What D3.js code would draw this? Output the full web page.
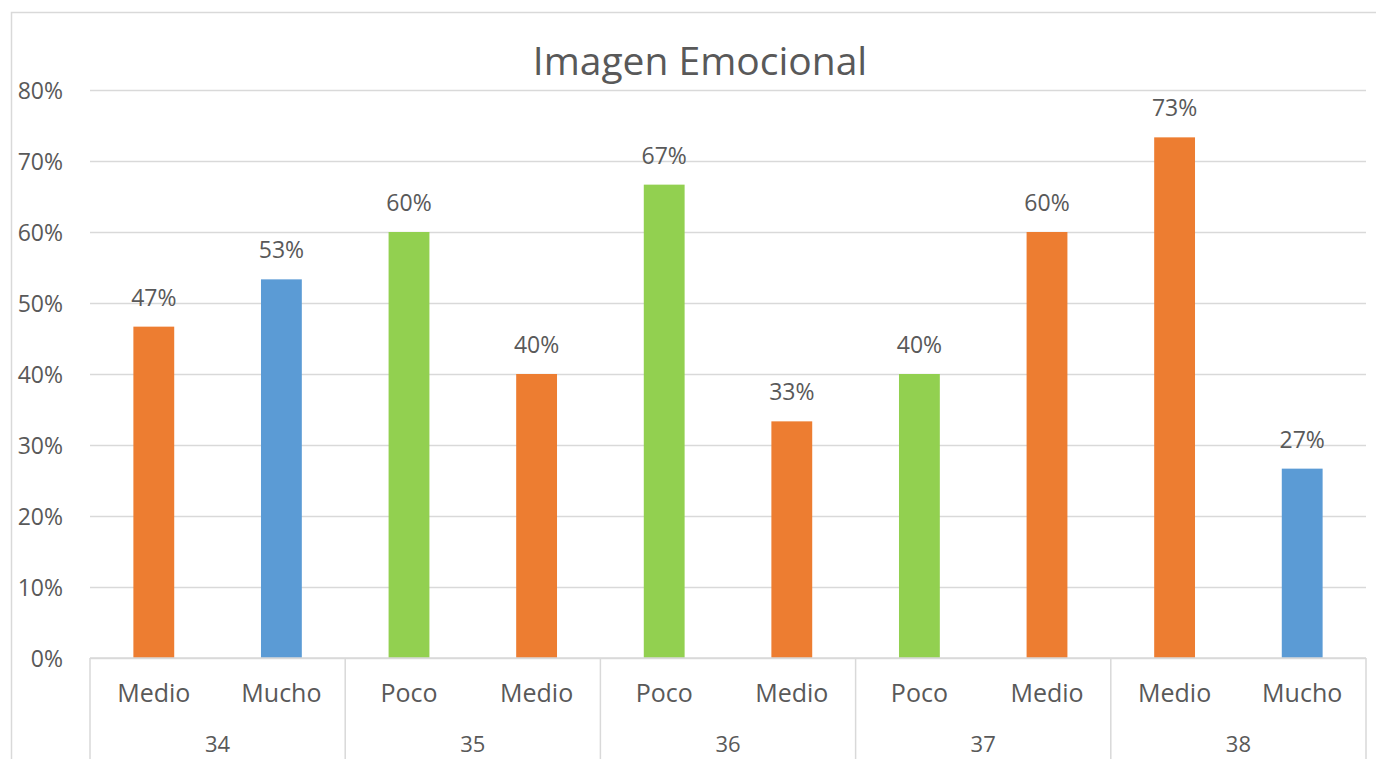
<!DOCTYPE html>
<html>
<head>
<meta charset="utf-8">
<script src="https://cdn.jsdelivr.net/npm/d3@7"></script>
<style>
  html, body { margin: 0; padding: 0; background: #fff; }
  svg { display: block; }
  text { font-family: "Open Sans", "Liberation Sans", sans-serif; fill: #595959; }
</style>
</head>
<body>
<svg id="chart" width="1376" height="759"></svg>
<script>
// Chart data
const groups = ["34", "35", "36", "37", "38"];
const levels = ["Medio", "Mucho", "Poco", "Medio", "Poco", "Medio", "Poco", "Medio", "Medio", "Mucho"];
const groupOf = ["34", "34", "35", "35", "36", "36", "37", "37", "38", "38"];
const values = [0.4667, 0.5333, 0.60, 0.40, 0.6667, 0.3333, 0.40, 0.60, 0.7333, 0.2667];
const valueLabels = ["47%", "53%", "60%", "40%", "67%", "33%", "40%", "60%", "73%", "27%"];
const yTicks = [0, 0.1, 0.2, 0.3, 0.4, 0.5, 0.6, 0.7, 0.8];
const levelColors = { "Poco": "#92D050", "Medio": "#ED7D31", "Mucho": "#5B9BD5" };

const svg = d3.select("#chart");
const W = 1376, H = 759;
const plot = { left: 90, right: 1366, top: 90, bottom: 658 };

// chart frame
svg.append("rect")
  .attr("x", 11.5).attr("y", 12.5)
  .attr("width", W + 20).attr("height", H + 20)
  .attr("fill", "#fff").attr("stroke", "#d9d9d9").attr("stroke-width", 1.5);

const idx = d3.range(values.length);
const x = d3.scaleBand().domain(idx).range([plot.left, plot.right])
  .paddingInner(0.68).paddingOuter(0.34);
const slot = d3.scaleBand().domain(idx).range([plot.left, plot.right]);
const y = d3.scaleLinear().domain([0, 0.8]).range([plot.bottom, plot.top]);

// Title
svg.append("text")
  .attr("x", 700).attr("y", 75)
  .attr("text-anchor", "middle")
  .style("font-size", "39px")
  .text("Imagen Emocional");

// Gridlines + y axis labels
const yAxis = d3.axisLeft(y).tickValues(yTicks).tickFormat(d3.format(".0%"))
  .tickSize(-(plot.right - plot.left)).tickPadding(27);
const gy = svg.append("g").attr("transform", `translate(${plot.left},0)`).call(yAxis);
gy.select(".domain").remove();
gy.selectAll(".tick line").attr("stroke", "#d9d9d9").attr("stroke-width", 1.5);
gy.selectAll(".tick text").style("font-size", "23px").attr("fill", "#595959")
  .attr("dy", "0.36em");

// Bars
svg.append("g").selectAll("rect").data(idx).join("rect")
  .attr("x", i => x(i))
  .attr("width", x.bandwidth())
  .attr("y", i => y(values[i]))
  .attr("height", i => y(0) - y(values[i]))
  .attr("fill", i => levelColors[levels[i]]);

// Value labels
svg.append("g").selectAll("text").data(idx).join("text")
  .attr("x", i => x(i) + x.bandwidth() / 2)
  .attr("y", i => y(values[i]) - 21)
  .attr("text-anchor", "middle")
  .style("font-size", "23px")
  .text(i => valueLabels[i]);

// Category axis: level labels, group labels and separators
const axisG = svg.append("g");
axisG.append("line")
  .attr("x1", plot.left).attr("x2", plot.right)
  .attr("y1", plot.bottom).attr("y2", plot.bottom)
  .attr("stroke", "#d9d9d9").attr("stroke-width", 1.5);

axisG.selectAll("text.level").data(idx).join("text")
  .attr("class", "level")
  .attr("x", i => slot(i) + slot.bandwidth() / 2)
  .attr("y", 702)
  .attr("text-anchor", "middle")
  .style("font-size", "25px")
  .text(i => levels[i]);

const groupSpan = groups.map(g => {
  const members = idx.filter(i => groupOf[i] === g);
  return { g, x0: slot(members[0]), x1: slot(members[members.length - 1]) + slot.bandwidth() };
});

axisG.selectAll("line.sep").data([plot.left, ...groupSpan.map(d => d.x1)]).join("line")
  .attr("class", "sep")
  .attr("x1", d => d).attr("x2", d => d)
  .attr("y1", plot.bottom).attr("y2", H)
  .attr("stroke", "#d9d9d9").attr("stroke-width", 1.5);

axisG.selectAll("text.group").data(groupSpan).join("text")
  .attr("class", "group")
  .attr("x", d => (d.x0 + d.x1) / 2)
  .attr("y", 752)
  .attr("text-anchor", "middle")
  .style("font-size", "22px")
  .text(d => d.g);
</script>
</body>
</html>
